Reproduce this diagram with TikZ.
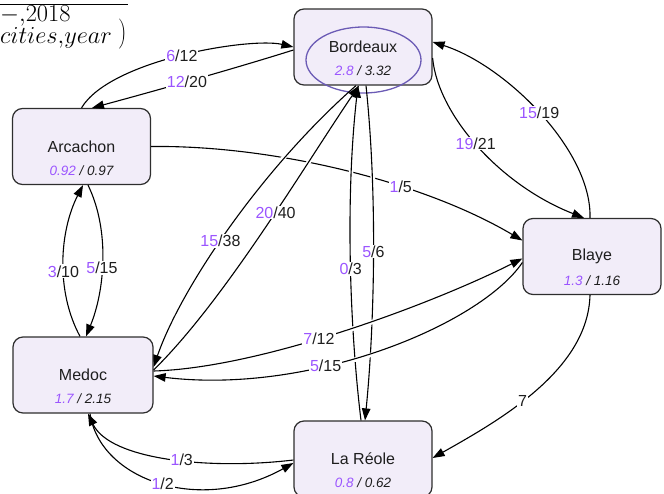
\RequirePackage{fix-cm}
\documentclass[tikz,border=0pt]{standalone}
\usepackage[no-math]{fontspec}
\setmainfont{Liberation Sans}
\usetikzlibrary{arrows.meta,shapes.geometric}

\definecolor{purp}{HTML}{9B55FF}
\definecolor{cityfill}{HTML}{F2EDF9}
\definecolor{cityedge}{HTML}{2E2E2E}
\definecolor{ringcol}{HTML}{6B5BB5}
\definecolor{ink}{HTML}{1E1E1E}

\newcommand{\pv}[1]{\textcolor{purp}{#1}}

\begin{document}
\begin{tikzpicture}[x=1pt,y=-1pt,
  city/.style={draw=cityedge, fill=cityfill, rounded corners=10pt, line width=1.2pt,
               minimum width=138pt, minimum height=76pt, inner sep=0pt},
  ctitle/.style={inner sep=0pt, text=ink, font=\fontsize{16}{19}\selectfont},
  cnums/.style={inner sep=0pt, text=ink, font=\fontsize{13.5}{16}\selectfont\itshape},
  ring/.style={draw=ringcol, line width=1.3pt, ellipse, minimum width=115pt,
               minimum height=66pt, inner sep=0pt},
  link/.style={draw=black, line width=1.1pt},
  fwd/.style={-{Triangle[length=12pt,width=8.5pt]}},
  bwd/.style={{Triangle[length=12pt,width=8.5pt]}-},
  halo/.style={preaction={draw=white, line width=4.5pt, arrows=-,
               shorten <=14pt, shorten >=14pt}},
  lbl/.style={fill=white, inner sep=1pt, text=ink, font=\fontsize{16}{19}\selectfont},
  hdr/.style={inner sep=0pt, font=\fontsize{24.4}{19}\selectfont},
]
\useasboundingbox (0,0) rectangle (664,493);

% header formula, cut by the page edge
\draw[line width=1pt] (0,4) -- (128,4);
\node[hdr, anchor=base west, align=left] (hdr-rows) at (0,43) {$-{,}2018$\\$cities{,}year$};
\node[hdr, anchor=east] (hdr-paren) at (127,34) {$\left.\vcenter{\hbox{\rule{0pt}{32pt}}}\right)$};

% cities
\node[city] (bdx) at (363,47) {};
\node[ring] (bdx-ring) at (363.5,60) {};
\node[ctitle] (bdx-t) at (bdx.center) {Bordeaux};
\node[cnums] (bdx-n) at ([yshift=-24pt]bdx.center) {\pv{2.8} / 3.32};

\node[city] (arc) at (81.5,146.5) {};
\node[ctitle] (arc-t) at (arc.center) {Arcachon};
\node[cnums] (arc-n) at ([yshift=-24pt]arc.center) {\pv{0.92} / 0.97};

\node[city] (bly) at (592,256.5) {};
\node[ctitle] (bly-t) at (bly.center) {Blaye};
\node[cnums] (bly-n) at ([yshift=-24pt]bly.center) {\pv{1.3} / 1.16};

\node[city, minimum width=140pt] (med) at (83,375) {};
\node[ctitle] (med-t) at (med.center) {Medoc};
\node[cnums] (med-n) at ([yshift=-24pt]med.center) {\pv{1.7} / 2.15};

\node[city] (lar) at (363,459) {};
\node[ctitle] (lar-t) at (lar.center) {La Réole};
\node[cnums] (lar-n) at ([yshift=-24pt]lar.center) {\pv{0.8} / 0.62};

% Arcachon -> Blaye (drawn first, the crossing links cut through it)
\draw[link,fwd] (arc.east) .. controls (270,145) and (420,180) .. ([yshift=16pt]bly.west)
  node[lbl,pos=.65] (l-ab) {\pv{1}/5};

% Bordeaux <-> La Reole
\draw[link,halo,bwd] ([xshift=-5pt]bdx.south) .. controls (345,200) and (350,330) .. ([xshift=-2pt]lar.north)
  node[lbl,pos=.52] (l-lb) {\pv{0}/3};
\draw[link,halo,fwd] ([xshift=3pt]bdx.south) .. controls (378,200) and (374,330) .. ([xshift=2pt]lar.north)
  node[lbl,pos=.47] (l-bl) {\pv{5}/6};

% Medoc <-> Bordeaux
\draw[link,halo,bwd] ([yshift=8pt]med.east) .. controls (180,290) and (260,170) .. ([xshift=-7pt]bdx.south)
  node[lbl,pos=.46] (l-bm) {\pv{15}/38};
\draw[link,halo,fwd] ([yshift=5pt]med.east) .. controls (225,300) and (305,165) .. ([xshift=-4pt]bdx.south)
  node[lbl,pos=.56] (l-mb) {\pv{20}/40};

% Medoc <-> Blaye
\draw[link,halo,fwd] ([yshift=4pt]med.east) .. controls (260,368) and (430,305) .. ([yshift=-2pt]bly.west)
  node[lbl,pos=.44] (l-my) {\pv{7}/12};
\draw[link,halo,fwd] ([yshift=-6pt]bly.west) .. controls (480,325) and (310,395) .. ([yshift=-1pt]med.east)
  node[lbl,pos=.63] (l-ym) {\pv{5}/15};

% Arcachon <-> Bordeaux
\draw[link,fwd] (arc.north) .. controls (110,60) and (250,37) .. (bdx.west)
  node[lbl,pos=.5] (l-ar) {\pv{6}/12};
\draw[link,fwd] ([yshift=-3pt]bdx.west) .. controls (230,70) and (140,95) .. ([xshift=10.5pt]arc.north)
  node[lbl,pos=.5] (l-ra) {\pv{12}/20};

% Bordeaux <-> Blaye
\draw[link,fwd] ([xshift=-2pt]bly.north) .. controls (592,150) and (505,65) .. ([yshift=5pt]bdx.east)
  node[lbl,pos=.5] (l-yb) {\pv{15}/19};
\draw[link,fwd] ([yshift=-11pt]bdx.east) .. controls (438,115) and (500,185) .. ([xshift=-8pt]bly.north)
  node[lbl,pos=.48] (l-by) {\pv{19}/21};

% Arcachon <-> Medoc
\draw[link,fwd] ([xshift=-3pt]med.north) .. controls (55,290) and (60,230) .. ([xshift=1.5pt]arc.south)
  node[lbl,pos=.43] (l-ma) {\pv{3}/10};
\draw[link,fwd] ([xshift=6.5pt]arc.south) .. controls (110,230) and (105,290) .. ([xshift=3pt]med.north)
  node[lbl,pos=.55] (l-am) {\pv{5}/15};

% Medoc <-> La Reole
\draw[link,bwd] ([xshift=5pt]med.south) .. controls (110,460) and (210,470) .. ([yshift=-1pt]lar.west)
  node[lbl,pos=.56] (l-lm) {\pv{1}/3};
\draw[link,fwd] ([xshift=7pt]med.south) .. controls (100,480) and (200,515) .. ([yshift=-4pt]lar.west)
  node[lbl,pos=.51] (l-ml) {\pv{1}/2};

% Blaye -> La Reole
\draw[link,fwd] ([xshift=-2pt]bly.south) .. controls (588,370) and (500,420) .. ([yshift=1pt]lar.east)
  node[lbl,pos=.57] (l-yl) {7};

\end{tikzpicture}
\end{document}
